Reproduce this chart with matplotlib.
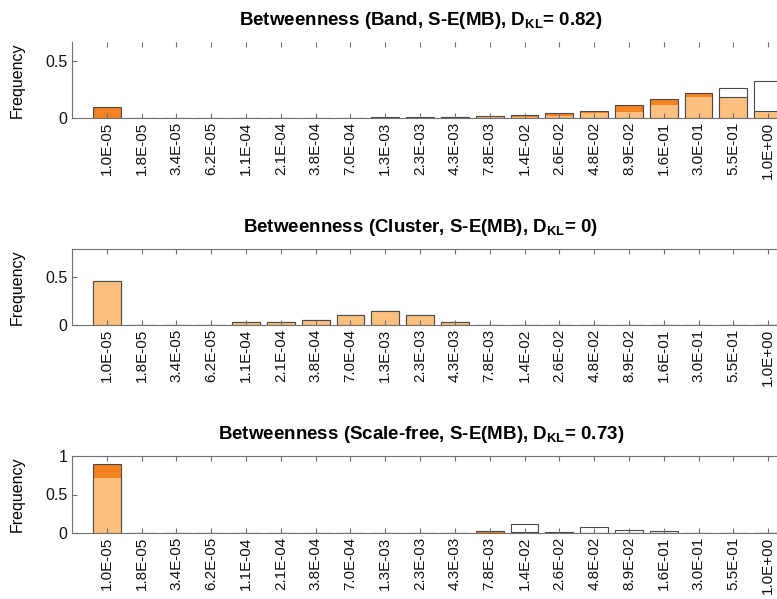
import numpy as np
import matplotlib
matplotlib.use("Agg")
import matplotlib.pyplot as plt

plt.rcParams["font.family"] = ["Liberation Sans", "DejaVu Sans"]
plt.rcParams["mathtext.fontset"] = "custom"
plt.rcParams["mathtext.rm"] = "Liberation Sans"
plt.rcParams["mathtext.bf"] = "Liberation Sans:bold"
plt.rcParams["mathtext.it"] = "Liberation Sans:italic"

bins = ["1.0E-05", "1.8E-05", "3.4E-05", "6.2E-05", "1.1E-04", "2.1E-04",
        "3.8E-04", "7.0E-04", "1.3E-03", "2.3E-03", "4.3E-03", "7.8E-03",
        "1.4E-02", "2.6E-02", "4.8E-02", "8.9E-02", "1.6E-01", "3.0E-01",
        "5.5E-01", "1.0E+00"]

# Band network: reference (outline) vs. S-E(MB) model (orange)
band_ref = [0, 0, 0, 0, 0, 0, 0, 0.001, 0.002, 0.004, 0.005, 0.008, 0.012,
            0.015, 0.047, 0.055, 0.114, 0.188, 0.26, 0.325]
band_model = [0.094, 0, 0, 0, 0, 0, 0, 0.002, 0.005, 0.008, 0.01, 0.02, 0.026,
              0.041, 0.059, 0.111, 0.17, 0.217, 0.188, 0.064]

# Cluster network: both distributions coincide
cluster_ref = [0.458, 0, 0, 0.005, 0.028, 0.035, 0.049, 0.104, 0.149, 0.107,
               0.035, 0, 0, 0, 0, 0, 0, 0, 0, 0]
cluster_model = [0.458, 0, 0, 0.005, 0.028, 0.035, 0.049, 0.104, 0.149, 0.107,
                 0.035, 0, 0, 0, 0, 0, 0, 0, 0, 0]

# Scale-free network
sf_ref = [0.72, 0, 0, 0, 0, 0, 0, 0, 0, 0, 0, 0, 0.12, 0.003, 0.072, 0.035,
          0.02, 0.005, 0.004, 0.004]
sf_model = [0.89, 0, 0, 0, 0.002, 0.003, 0.001, 0.001, 0, 0, 0, 0.022, 0.012,
            0.01, 0, 0, 0.002, 0, 0, 0]

titles = [r"Betweenness (Band, S-E(MB), $\mathbf{D_{KL}}$= 0.82)",
          r"Betweenness (Cluster, S-E(MB), $\mathbf{D_{KL}}$= 0)",
          r"Betweenness (Scale-free, S-E(MB), $\mathbf{D_{KL}}$= 0.73)"]
panels = [(band_ref, band_model), (cluster_ref, cluster_model), (sf_ref, sf_model)]
ylims = [0.667, 0.79, 1.0]
yticks = [[0, 0.5], [0, 0.5], [0, 0.5, 1]]
yticklabels = [["0", "0.5"], ["0", "0.5"], ["0", "0.5", "1"]]

DARK = "#F58220"
LIGHT = "#FBC07F"
EDGE = "#4a4a4a"
AXC = "#707070"

W, H = 777, 599
fig = plt.figure(figsize=(W / 100, H / 100), dpi=100)

# axes boxes in pixels: (left, top, bottom)
boxes = [(72, 42, 118), (72, 249, 325), (72, 456, 533)]
ax_width_px = 731

x = np.arange(1, len(bins) + 1)
for i, ((ref, model), (l, t, b)) in enumerate(zip(panels, boxes)):
    ax = fig.add_axes([l / W, (H - b) / H, ax_width_px / W, (b - t) / H])
    ref = np.asarray(ref)
    model = np.asarray(model)
    overlap = np.minimum(ref, model)
    ax.bar(x, ref, width=0.8, facecolor="white", edgecolor=EDGE, linewidth=0.8, zorder=1)
    ax.bar(x, model, width=0.8, facecolor=DARK, edgecolor="none", zorder=1.1)
    ax.bar(x, overlap, width=0.8, facecolor=LIGHT, edgecolor="none", zorder=1.2)
    ax.bar(x, model, width=0.8, facecolor="none", edgecolor=EDGE, linewidth=0.8, zorder=1.3)

    ax.set_xlim(0, len(bins) + 1)
    ax.set_ylim(0, ylims[i])
    ax.set_xticks(x)
    ax.set_xticklabels(bins, rotation=90, fontsize=11)
    ax.set_yticks(yticks[i])
    ax.set_yticklabels(yticklabels[i], fontsize=11.5)
    ax.tick_params(direction="in", length=3.8, width=0.8, color=AXC,
                   top=True, right=True, labelcolor="#111111")
    ax.tick_params(axis="x", pad=3)
    ax.tick_params(axis="y", pad=3.5)
    for s in ax.spines.values():
        s.set_color(AXC)
        s.set_linewidth(0.8)
    if i == 0:
        ax.spines["top"].set_visible(False)
    ax.set_axisbelow(False)

    ax.set_ylabel("Frequency", fontsize=11.5)
    ax.yaxis.set_label_coords((25 - 72) / ax_width_px, 0.5)
    ax.set_title(titles[i], fontsize=13.5, fontweight="bold", x=(421 - 72) / ax_width_px,
                 pad=12)

fig.savefig("out.png", dpi=100)
